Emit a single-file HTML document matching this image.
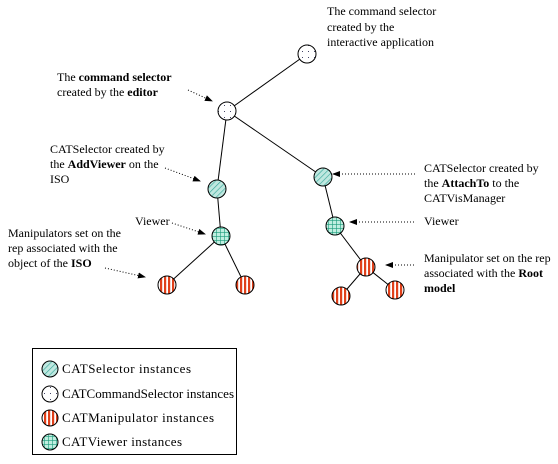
<!DOCTYPE html>
<html><head><style>
html,body{margin:0;padding:0;background:#fff;}
svg{display:block;}
text{font-family:"Liberation Serif",serif;font-size:12px;fill:#000;}
.b{font-weight:bold;}
.lg{font-size:13px;}
</style></head><body>
<svg width="558" height="464" viewBox="0 0 558 464" xmlns="http://www.w3.org/2000/svg">
<defs>
<pattern id="hatch" width="4" height="4" patternUnits="userSpaceOnUse" patternTransform="rotate(45)">
<rect width="4" height="4" fill="#bfe8e0"/><line x1="0" y1="0" x2="0" y2="4" stroke="#3aa89a" stroke-width="1.3"/>
</pattern>
<pattern id="grid" width="4" height="4" patternUnits="userSpaceOnUse">
<rect width="4" height="4" fill="#bfeee0"/><path d="M0 0H4M0 0V4" stroke="#1a9a7a" stroke-width="1.2"/>
</pattern>
<pattern id="stripe" width="4" height="4" patternUnits="userSpaceOnUse">
<rect width="4" height="4" fill="#fff"/><rect x="0" width="2.2" height="4" fill="#e0401a"/>
</pattern>
<pattern id="dots" width="6" height="6" patternUnits="userSpaceOnUse">
<rect width="6" height="6" fill="#fff"/><rect x="2" y="3" width="1" height="1" fill="#446"/>
</pattern>
<marker id="ah" markerWidth="8" markerHeight="6" refX="7" refY="3" orient="auto" markerUnits="userSpaceOnUse">
<path d="M0 0L8 3L0 6z" fill="#000"/>
</marker>
</defs>
<g stroke="#000" stroke-width="1">
<line x1="307" y1="54" x2="227" y2="111"/>
<line x1="227" y1="111" x2="217" y2="189"/>
<line x1="227" y1="111" x2="323" y2="177"/>
<line x1="217" y1="189" x2="221" y2="236"/>
<line x1="221" y1="236" x2="167" y2="285"/>
<line x1="221" y1="236" x2="245" y2="285"/>
<line x1="323" y1="177" x2="335" y2="226"/>
<line x1="335" y1="226" x2="366" y2="267"/>
<line x1="366" y1="267" x2="341" y2="296"/>
<line x1="366" y1="267" x2="395" y2="290"/>
</g>
<g stroke="#000" stroke-width="1">
<circle cx="307" cy="54" r="9" fill="url(#dots)"/>
<circle cx="227" cy="111" r="9" fill="url(#dots)"/>
<circle cx="217" cy="189" r="9" fill="url(#hatch)"/>
<circle cx="221" cy="236" r="9" fill="url(#grid)"/>
<circle cx="167" cy="285" r="9" fill="url(#stripe)"/>
<circle cx="245" cy="285" r="9" fill="url(#stripe)"/>
<circle cx="323" cy="177" r="9" fill="url(#hatch)"/>
<circle cx="335" cy="226" r="9" fill="url(#grid)"/>
<circle cx="366" cy="267" r="9" fill="url(#stripe)"/>
<circle cx="341" cy="296" r="9" fill="url(#stripe)"/>
<circle cx="395" cy="290" r="9" fill="url(#stripe)"/>
</g>
<g stroke="#000" stroke-width="1" stroke-dasharray="1,2" fill="none" marker-end="url(#ah)">
<line x1="188" y1="90" x2="212" y2="101"/>
<line x1="165" y1="168" x2="200" y2="181"/>
<line x1="172" y1="223" x2="205" y2="234"/>
<line x1="105" y1="268" x2="145" y2="277"/>
<line x1="415" y1="174" x2="333" y2="174"/>
<line x1="414" y1="222" x2="350" y2="222"/>
<line x1="414" y1="265" x2="386" y2="265"/>
</g>
<text x="327" y="15">The command selector</text>
<text x="327" y="31">created by the</text>
<text x="327" y="46">interactive application</text>
<text x="57" y="81">The <tspan class="b">command selector</tspan></text>
<text x="57" y="96">created by the <tspan class="b">editor</tspan></text>
<text x="50" y="153">CATSelector created by</text>
<text x="50" y="168">the <tspan class="b">AddViewer</tspan> on the</text>
<text x="50" y="183">ISO</text>
<text x="135" y="225">Viewer</text>
<text x="8" y="237">Manipulators set on the</text>
<text x="8" y="252">rep associated with the</text>
<text x="8" y="267">object of the <tspan class="b">ISO</tspan></text>
<text x="424" y="172">CATSelector created by</text>
<text x="424" y="187">the <tspan class="b">AttachTo</tspan> to the</text>
<text x="424" y="202">CATVisManager</text>
<text x="424" y="225">Viewer</text>
<text x="424" y="262">Manipulator set on the rep</text>
<text x="424" y="277">associated with the <tspan class="b">Root</tspan></text>
<text x="424" y="292" class="b">model</text>
<rect x="32.5" y="348.5" width="204" height="106" fill="none" stroke="#000"/>
<g stroke="#000" stroke-width="1">
<circle cx="50" cy="369" r="8" fill="url(#hatch)"/>
<circle cx="50" cy="394" r="8" fill="url(#dots)"/>
<circle cx="50" cy="418" r="8" fill="url(#stripe)"/>
<circle cx="50" cy="442" r="8" fill="url(#grid)"/>
</g>
<text class="lg" x="62" y="373" textLength="129">CATSelector instances</text>
<text class="lg" x="62" y="398" textLength="172">CATCommandSelector instances</text>
<text class="lg" x="62" y="422" textLength="152">CATManipulator instances</text>
<text class="lg" x="62" y="446" textLength="120">CATViewer instances</text>
</svg>
</body></html>
